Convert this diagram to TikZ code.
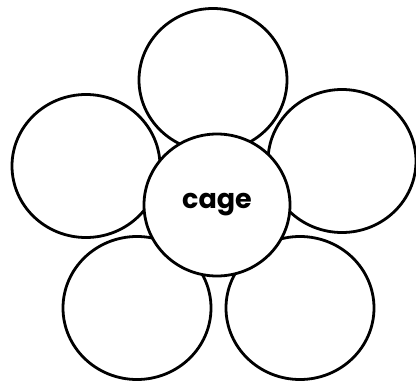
\documentclass[tikz,border=0pt]{standalone}
\usepackage{fontspec}
\usepackage{xcolor,tikz}
\usetikzlibrary{shapes.geometric}
\newfontfamily\petalfont{Poppins}
\definecolor{flwLine}{HTML}{000000}
\tikzset{
  petal node/.style={
    ellipse, draw=flwLine, fill=white,
    line width=2.8pt, minimum width=148pt, minimum height=143pt,
    inner sep=0pt,
  },
  heart node/.style={
    petal node, minimum width=146pt, minimum height=142pt,
    font=\petalfont\bfseries\fontsize{27}{30}\selectfont,
  },
}
\begin{document}
\begin{tikzpicture}[x=1pt, y=-1pt]
\useasboundingbox (0,0) rectangle (416,384);

% 5 petals round the heart (positions)
\foreach \i/\px/\py in {1/213/80, 2/86/166, 3/342/161,
                        4/137/308, 5/300/308} {
  \node[petal node] (p\i) at (\px, \py) {};
}
% Heart of the flower, on top of the petals
\node[heart node] (heart) at (217, 205) {cage};

\end{tikzpicture}
\end{document}
